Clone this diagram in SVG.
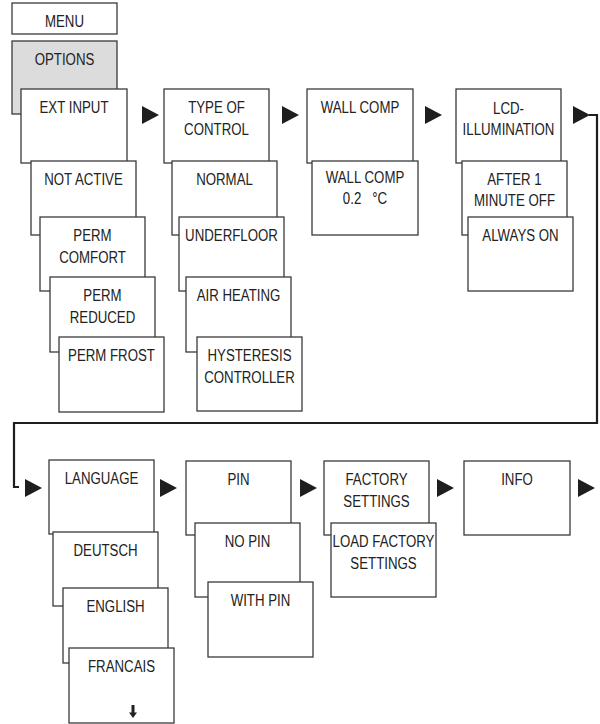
<svg xmlns="http://www.w3.org/2000/svg" width="600" height="724" viewBox="0 0 600 724">
<style>
.b{fill:#fff;stroke:#3a3a3a;stroke-width:1.3}
.g{fill:#dcdcdc;stroke:#3a3a3a;stroke-width:1.3}
.t{font-family:"Liberation Sans",Arial,sans-serif;font-size:17px;fill:#222;text-anchor:middle}
.tri{fill:#1e1e1e}
.ln{fill:none;stroke:#1e1e1e;stroke-width:2.2}
</style>
<defs>
<path id="tr" d="M0,0 L0,18 L17,9 Z"/>
</defs>
<rect width="600" height="724" fill="#fff"/>
<g id="menu"><rect class="b" x="12" y="3" width="105" height="31"/><text class="t" transform="translate(64.5,27) scale(0.78,1)">MENU</text></g>
<g id="options"><rect class="g" x="12" y="41" width="105" height="73"/><text class="t" transform="translate(64.5,65) scale(0.78,1)">OPTIONS</text></g>

<g id="ext-input"><rect class="b" x="21" y="89" width="106" height="74"/><text class="t" transform="translate(74,112.5) scale(0.78,1)">EXT INPUT</text></g>
<g id="not-active"><rect class="b" x="31" y="161" width="105" height="74"/><text class="t" transform="translate(83.5,184.5) scale(0.78,1)">NOT ACTIVE</text></g>
<g id="perm-comfort"><rect class="b" x="40" y="217" width="105" height="74"/><text class="t" transform="translate(92.5,240.5) scale(0.78,1)">PERM</text><text class="t" transform="translate(92.5,262.5) scale(0.78,1)">COMFORT</text></g>
<g id="perm-reduced"><rect class="b" x="50" y="277" width="105" height="75"/><text class="t" transform="translate(102.5,300.5) scale(0.78,1)">PERM</text><text class="t" transform="translate(102.5,322.5) scale(0.78,1)">REDUCED</text></g>
<g id="perm-frost"><rect class="b" x="59" y="337" width="105" height="75"/><text class="t" transform="translate(111.5,360.5) scale(0.78,1)">PERM FROST</text></g>

<g id="type-of-control"><rect class="b" x="164" y="89" width="105" height="74"/><text class="t" transform="translate(216.5,112.5) scale(0.78,1)">TYPE OF</text><text class="t" transform="translate(216.5,134.5) scale(0.78,1)">CONTROL</text></g>
<g id="normal"><rect class="b" x="172" y="161" width="105" height="74"/><text class="t" transform="translate(224.5,184.5) scale(0.78,1)">NORMAL</text></g>
<g id="underfloor"><rect class="b" x="179" y="217" width="105" height="74"/><text class="t" transform="translate(231.5,240.5) scale(0.78,1)">UNDERFLOOR</text></g>
<g id="air-heating"><rect class="b" x="186" y="277" width="105" height="75"/><text class="t" transform="translate(238.5,300.5) scale(0.78,1)">AIR HEATING</text></g>
<g id="hysteresis"><rect class="b" x="197" y="337" width="105" height="74"/><text class="t" transform="translate(249.5,360.5) scale(0.78,1)">HYSTERESIS</text><text class="t" transform="translate(249.5,382.5) scale(0.78,1)">CONTROLLER</text></g>

<g id="wall-comp"><rect class="b" x="307" y="89" width="106" height="74"/><text class="t" transform="translate(360,112.5) scale(0.78,1)">WALL COMP</text></g>
<g id="wall-comp-value"><rect class="b" x="312" y="161" width="106" height="74"/><text class="t" transform="translate(365,182.5) scale(0.78,1)">WALL COMP</text><text class="t" xml:space="preserve" transform="translate(365,203.5) scale(0.78,1)">0.2   °C</text></g>

<g id="lcd"><rect class="b" x="456" y="89" width="105" height="74"/><text class="t" transform="translate(508.5,114) scale(0.78,1)">LCD-</text><text class="t" transform="translate(508.5,135) scale(0.78,1)">ILLUMINATION</text></g>
<g id="after-1"><rect class="b" x="462" y="161" width="105" height="74"/><text class="t" transform="translate(514.5,184.5) scale(0.78,1)">AFTER 1</text><text class="t" transform="translate(514.5,206) scale(0.78,1)">MINUTE OFF</text></g>
<g id="always-on"><rect class="b" x="468" y="217" width="105" height="74"/><text class="t" transform="translate(520.5,240.5) scale(0.78,1)">ALWAYS ON</text></g>

<g id="language"><rect class="b" x="49" y="460" width="105" height="74"/><text class="t" transform="translate(101.5,483.5) scale(0.78,1)">LANGUAGE</text></g>
<g id="deutsch"><rect class="b" x="53" y="532" width="105" height="74"/><text class="t" transform="translate(105.5,555.5) scale(0.78,1)">DEUTSCH</text></g>
<g id="english"><rect class="b" x="63" y="588" width="105" height="75"/><text class="t" transform="translate(115.5,611.5) scale(0.78,1)">ENGLISH</text></g>
<g id="francais"><rect class="b" x="69" y="648" width="105" height="75"/><text class="t" transform="translate(121.5,671.5) scale(0.78,1)">FRANCAIS</text><path d="M131.5,705 h3 v7.5 h2.5 l-4,5.5 l-4,-5.5 h2.5 Z" fill="#222"/></g>

<g id="pin"><rect class="b" x="186" y="461" width="105" height="74"/><text class="t" transform="translate(238.5,484.5) scale(0.78,1)">PIN</text></g>
<g id="no-pin"><rect class="b" x="195" y="523" width="105" height="74"/><text class="t" transform="translate(247.5,546.5) scale(0.78,1)">NO PIN</text></g>
<g id="with-pin"><rect class="b" x="208" y="582" width="105" height="75"/><text class="t" transform="translate(260.5,605.5) scale(0.78,1)">WITH PIN</text></g>

<g id="factory-settings"><rect class="b" x="324" y="461" width="105" height="74"/><text class="t" transform="translate(376.5,484.5) scale(0.78,1)">FACTORY</text><text class="t" transform="translate(376.5,506.5) scale(0.78,1)">SETTINGS</text></g>
<g id="load-factory"><rect class="b" x="331" y="523" width="105" height="74"/><text class="t" transform="translate(383.5,546.5) scale(0.78,1)">LOAD FACTORY</text><text class="t" transform="translate(383.5,568.5) scale(0.78,1)">SETTINGS</text></g>

<g id="info"><rect class="b" x="464" y="461" width="106" height="74"/><text class="t" transform="translate(517,484.5) scale(0.78,1)">INFO</text></g>

<g id="connectors">
<use href="#tr" class="tri" x="142" y="106"/>
<use href="#tr" class="tri" x="282" y="106"/>
<use href="#tr" class="tri" x="425" y="106"/>
<use href="#tr" class="tri" x="573" y="106"/>
<polyline class="ln" points="589,115 597,115 597,423 14,423 14,487 19,487"/>
<use href="#tr" class="tri" x="25" y="479"/>
<use href="#tr" class="tri" x="160" y="479"/>
<use href="#tr" class="tri" x="300" y="479"/>
<use href="#tr" class="tri" x="437" y="479"/>
<use href="#tr" class="tri" x="578" y="479"/>
</g>
</svg>
